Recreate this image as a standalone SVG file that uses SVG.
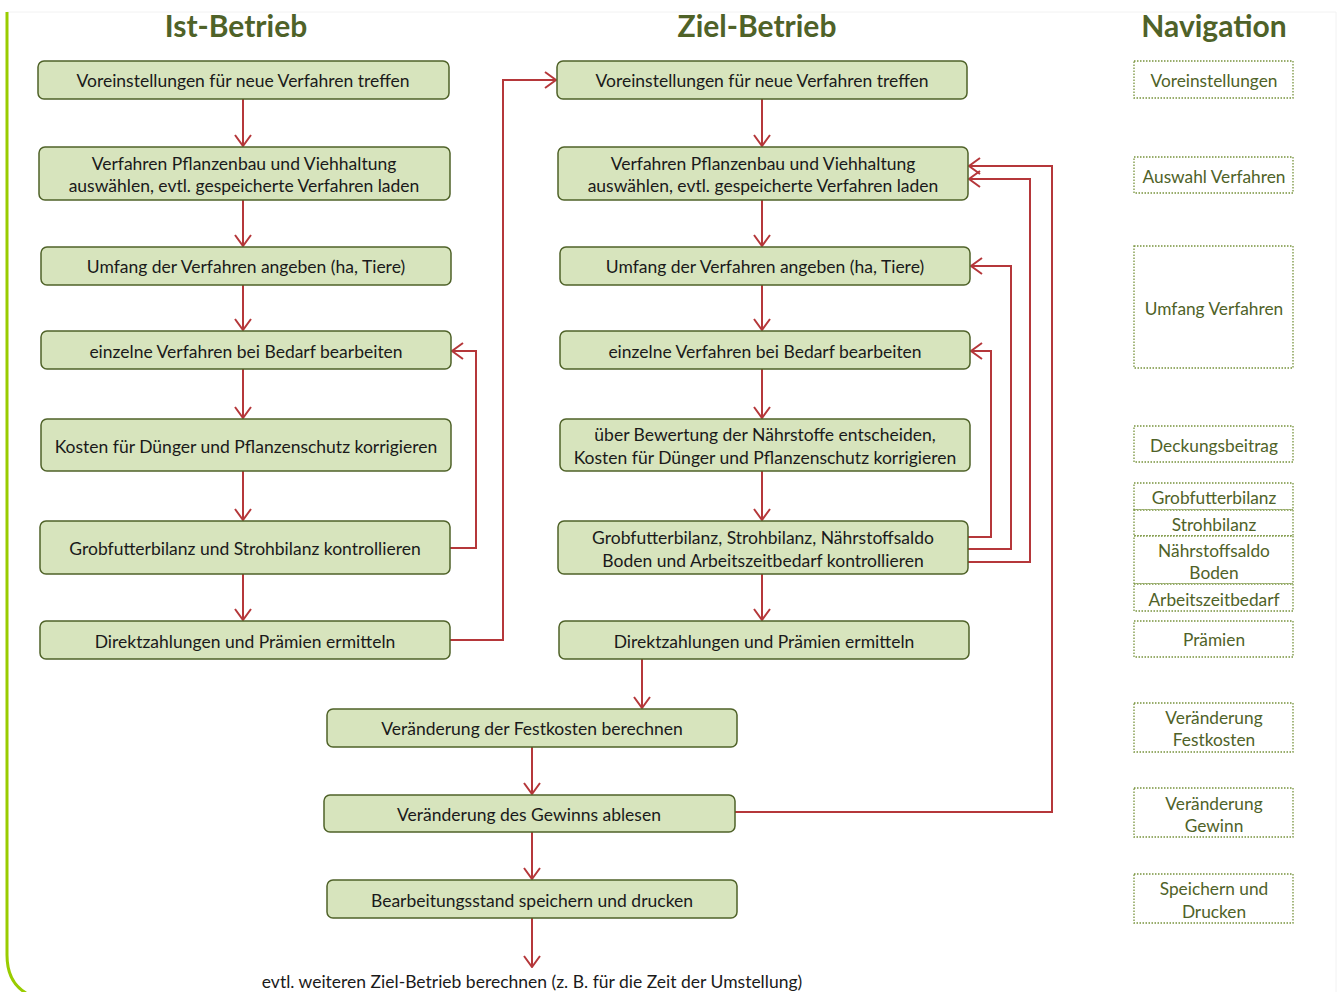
<svg xmlns="http://www.w3.org/2000/svg" width="1338" height="992" viewBox="0 0 1338 992">
<style>
.box{fill:#d7e4bd;stroke:#4f6228;stroke-width:1.5}
.t{font-family:Lato,"Open Sans",sans-serif;font-size:17.5px;fill:#1a1a1a;text-anchor:middle;dominant-baseline:central}
.h{font-family:Lato,"Open Sans",sans-serif;font-size:30px;font-weight:bold;fill:#4f6228;text-anchor:middle;dominant-baseline:central}
.nav{fill:#fff;stroke:#77933c;stroke-width:1.3;stroke-dasharray:1.5 1.5}
.nt{font-family:Lato,"Open Sans",sans-serif;font-size:17.3px;fill:#4f6228;text-anchor:middle;dominant-baseline:central}
.c{fill:none;stroke:#b5373a;stroke-width:2;marker-end:url(#ah)}
</style>
<defs>
<marker id="ah" viewBox="0 0 13 18" refX="12" refY="9" markerWidth="13" markerHeight="18" orient="auto" markerUnits="userSpaceOnUse">
<path d="M1,1 L12,9 L1,17" fill="none" stroke="#b5373a" stroke-width="2"/>
</marker>
</defs>
<rect x="0" y="0" width="1338" height="992" fill="#fff"/>
<line x1="7" y1="12" x2="1336" y2="12" stroke="#f2f2f2" stroke-width="1"/>
<line x1="1336" y1="12" x2="1336" y2="992" stroke="#f2f2f2" stroke-width="1"/>
<path d="M7,12 V955 Q7,982 26,993" fill="none" stroke="#99cc00" stroke-width="3"/>

<g id="titles">
<text class="h" x="236" y="25">Ist-Betrieb</text>
<text class="h" x="757" y="25">Ziel-Betrieb</text>
<text class="h" x="1214" y="25">Navigation</text>
</g>

<g id="connectors">
<line class="c" x1="243" y1="99" x2="243" y2="146"/>
<line class="c" x1="243" y1="200" x2="243" y2="246"/>
<line class="c" x1="243" y1="285" x2="243" y2="330"/>
<line class="c" x1="243" y1="369" x2="243" y2="418"/>
<line class="c" x1="243" y1="471" x2="243" y2="520"/>
<line class="c" x1="243" y1="574" x2="243" y2="620"/>
<polyline class="c" points="450,548 476,548 476,351 452,351"/>
<polyline class="c" points="450,640 503,640 503,80 556,80"/>
<line class="c" x1="762" y1="99" x2="762" y2="146"/>
<line class="c" x1="762" y1="200" x2="762" y2="246"/>
<line class="c" x1="762" y1="285" x2="762" y2="330"/>
<line class="c" x1="762" y1="369" x2="762" y2="418"/>
<line class="c" x1="762" y1="471" x2="762" y2="520"/>
<line class="c" x1="762" y1="574" x2="762" y2="620"/>
<polyline class="c" points="968,537 991,537 991,351 971,351"/>
<polyline class="c" points="968,549 1011,549 1011,266 971,266"/>
<polyline class="c" points="968,562 1030,562 1030,179 969,179"/>
<polyline class="c" points="735,812 1052,812 1052,166 969,166"/>
<line class="c" x1="642" y1="659" x2="642" y2="708"/>
<line class="c" x1="532" y1="747" x2="532" y2="794"/>
<line class="c" x1="532" y1="832" x2="532" y2="879"/>
<line class="c" x1="532" y1="918" x2="532" y2="967"/>
</g>

<g id="ist1"><rect class="box" x="38" y="61" width="411" height="38" rx="6"/><text class="t" x="243" y="80">Voreinstellungen für neue Verfahren treffen</text></g>
<g id="ist2"><rect class="box" x="39" y="147" width="411" height="53" rx="6"/><text class="t" x="244" y="163">Verfahren Pflanzenbau und Viehhaltung</text><text class="t" x="244" y="185">auswählen, evtl. gespeicherte Verfahren laden</text></g>
<g id="ist3"><rect class="box" x="41" y="247" width="410" height="38" rx="6"/><text class="t" x="246" y="266">Umfang der Verfahren angeben (ha, Tiere)</text></g>
<g id="ist4"><rect class="box" x="41" y="331" width="410" height="38" rx="6"/><text class="t" x="246" y="351">einzelne Verfahren bei Bedarf bearbeiten</text></g>
<g id="ist5"><rect class="box" x="41" y="419" width="410" height="52" rx="6"/><text class="t" x="246" y="446">Kosten für Dünger und Pflanzenschutz korrigieren</text></g>
<g id="ist6"><rect class="box" x="40" y="521" width="410" height="53" rx="6"/><text class="t" x="245" y="548">Grobfutterbilanz und Strohbilanz kontrollieren</text></g>
<g id="ist7"><rect class="box" x="40" y="621" width="410" height="38" rx="6"/><text class="t" x="245" y="641">Direktzahlungen und Prämien ermitteln</text></g>

<g id="ziel1"><rect class="box" x="557" y="61" width="410" height="38" rx="6"/><text class="t" x="762" y="80">Voreinstellungen für neue Verfahren treffen</text></g>
<g id="ziel2"><rect class="box" x="558" y="147" width="410" height="53" rx="6"/><text class="t" x="763" y="163">Verfahren Pflanzenbau und Viehhaltung</text><text class="t" x="763" y="185">auswählen, evtl. gespeicherte Verfahren laden</text></g>
<g id="ziel3"><rect class="box" x="560" y="247" width="410" height="38" rx="6"/><text class="t" x="765" y="266">Umfang der Verfahren angeben (ha, Tiere)</text></g>
<g id="ziel4"><rect class="box" x="560" y="331" width="410" height="38" rx="6"/><text class="t" x="765" y="351">einzelne Verfahren bei Bedarf bearbeiten</text></g>
<g id="ziel5"><rect class="box" x="560" y="419" width="410" height="52" rx="6"/><text class="t" x="765" y="434">über Bewertung der Nährstoffe entscheiden,</text><text class="t" x="765" y="457">Kosten für Dünger und Pflanzenschutz korrigieren</text></g>
<g id="ziel6"><rect class="box" x="558" y="521" width="410" height="53" rx="6"/><text class="t" x="763" y="537">Grobfutterbilanz, Strohbilanz, Nährstoffsaldo</text><text class="t" x="763" y="560">Boden und Arbeitszeitbedarf kontrollieren</text></g>
<g id="ziel7"><rect class="box" x="559" y="621" width="410" height="38" rx="6"/><text class="t" x="764" y="641">Direktzahlungen und Prämien ermitteln</text></g>

<g id="fest"><rect class="box" x="327" y="709" width="410" height="38" rx="6"/><text class="t" x="532" y="728">Veränderung der Festkosten berechnen</text></g>
<g id="gewinn"><rect class="box" x="324" y="795" width="411" height="37" rx="6"/><text class="t" x="529" y="814">Veränderung des Gewinns ablesen</text></g>
<g id="speichern"><rect class="box" x="327" y="880" width="410" height="38" rx="6"/><text class="t" x="532" y="900">Bearbeitungsstand speichern und drucken</text></g>
<g id="weiter"><text class="t" x="532" y="981">evtl. weiteren Ziel-Betrieb berechnen (z. B. für die Zeit der Umstellung)</text></g>

<g id="nav1"><rect class="nav" x="1134" y="61" width="159" height="37"/><text class="nt" x="1214" y="80">Voreinstellungen</text></g>
<g id="nav2"><rect class="nav" x="1134" y="157" width="159" height="36"/><text class="nt" x="1214" y="176">Auswahl Verfahren</text></g>
<g id="nav3"><rect class="nav" x="1134" y="246" width="159" height="122"/><text class="nt" x="1214" y="308">Umfang Verfahren</text></g>
<g id="nav4"><rect class="nav" x="1134" y="426" width="159" height="36"/><text class="nt" x="1214" y="445">Deckungsbeitrag</text></g>
<g id="nav5a"><rect class="nav" x="1134" y="483" width="159" height="27"/><text class="nt" x="1214" y="497">Grobfutterbilanz</text></g>
<g id="nav5b"><rect class="nav" x="1134" y="510" width="159" height="26"/><text class="nt" x="1214" y="524">Strohbilanz</text></g>
<g id="nav5c"><rect class="nav" x="1134" y="536" width="159" height="48"/><text class="nt" x="1214" y="550">Nährstoffsaldo</text><text class="nt" x="1214" y="572">Boden</text></g>
<g id="nav5d"><rect class="nav" x="1134" y="584" width="159" height="27"/><text class="nt" x="1214" y="599">Arbeitszeitbedarf</text></g>
<g id="nav6"><rect class="nav" x="1134" y="621" width="159" height="36"/><text class="nt" x="1214" y="639">Prämien</text></g>
<g id="nav7"><rect class="nav" x="1134" y="703" width="159" height="49"/><text class="nt" x="1214" y="717">Veränderung</text><text class="nt" x="1214" y="739">Festkosten</text></g>
<g id="nav8"><rect class="nav" x="1134" y="788" width="159" height="49"/><text class="nt" x="1214" y="803">Veränderung</text><text class="nt" x="1214" y="825">Gewinn</text></g>
<g id="nav9"><rect class="nav" x="1134" y="874" width="159" height="49"/><text class="nt" x="1214" y="888">Speichern und</text><text class="nt" x="1214" y="911">Drucken</text></g>
</svg>
